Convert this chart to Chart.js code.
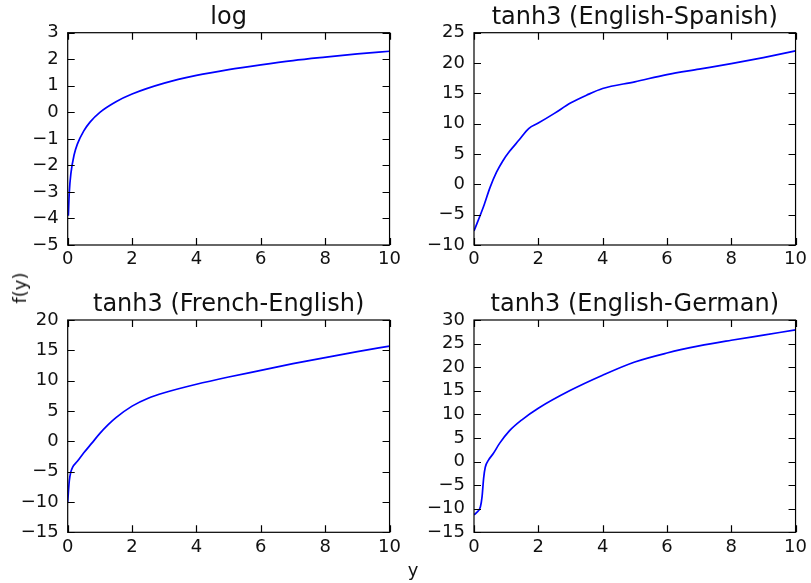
<!DOCTYPE html>
<html>
<head>
<meta charset="utf-8">
<script src="https://cdn.jsdelivr.net/npm/chart.js@4/dist/chart.umd.min.js"></script>
<style>
  body { margin: 0; background: #fff; }
  #wrap { position: relative; width: 811px; height: 583px; overflow: hidden; font-family: "DejaVu Sans", sans-serif; color: #111; }
  canvas { position: absolute; }
  .lbl { position: absolute; font-size: 18px; line-height: 1; white-space: nowrap; }
</style>
</head>
<body>
<div id="wrap">
  <canvas id="c1" width="405" height="280" style="left:0;top:0"></canvas>
  <canvas id="c2" width="406" height="280" style="left:405px;top:0"></canvas>
  <canvas id="c3" width="405" height="303" style="left:0;top:280px"></canvas>
  <canvas id="c4" width="406" height="303" style="left:405px;top:280px"></canvas>
  <div class="lbl" style="left:20px;top:288px;transform:translate(-50%,-50%) rotate(-90deg)">f(y)</div>
  <div class="lbl" style="left:413px;top:570px;transform:translate(-50%,-50%)">y</div>
</div>
<script>
// values
const logX = [0.02, 0.05, 0.1, 0.2, 0.3, 0.5, 0.7, 1, 1.5, 2, 3, 4, 5, 6, 7, 8, 9, 10];
const logY = [-3.9, -3.0, -2.3, -1.6, -1.2, -0.7, -0.36, 0, 0.4, 0.69, 1.1, 1.39, 1.61, 1.79, 1.95, 2.08, 2.2, 2.3];

const esX = [0, 0.3, 0.5, 0.7, 0.9, 1.1, 1.4, 1.7, 2, 2.5, 3, 3.5, 4, 5, 6, 7, 8, 9, 10];
const esY = [-7.7, -3.6, -0.5, 2.0, 3.9, 5.4, 7.3, 9.2, 10.1, 11.7, 13.4, 14.7, 15.8, 16.9, 18.1, 19.0, 19.9, 20.9, 22];

const frX = [0, 0.05, 0.1, 0.15, 0.3, 0.5, 0.75, 1, 1.25, 1.5, 2, 2.5, 3, 4, 5, 6, 7, 8, 9, 10];
const frY = [-10, -6.5, -5, -4.3, -3.3, -1.9, -0.3, 1.3, 2.7, 3.9, 5.8, 7.1, 8.0, 9.4, 10.6, 11.7, 12.8, 13.8, 14.8, 15.7];

const deX = [0, 0.1, 0.2, 0.25, 0.3, 0.35, 0.45, 0.6, 0.8, 1.1, 1.5, 2, 3, 4, 5, 6, 7, 8, 9, 10];
const deY = [-11.3, -10.7, -9.6, -7.5, -3.5, -1.2, 0.3, 1.7, 3.9, 6.5, 8.9, 11.3, 15.1, 18.3, 21.1, 23, 24.5, 25.7, 26.8, 27.9];

const xTicks = { min: 0, max: 10, step: 2 };

const FONT = '"DejaVu Sans", sans-serif';
const TICK = 7;

// matplotlib style box with ticks pointing inwards on every side
const framePlugin = {
  id: 'frame',
  afterDatasetsDraw(chart) {
    const { ctx, chartArea: a, scales } = chart;
    ctx.save();
    ctx.strokeStyle = '#000';
    ctx.lineWidth = 1.2;
    ctx.beginPath();
    scales.x.ticks.forEach(t => {
      const px = Math.round(scales.x.getPixelForValue(t.value)) + 0.5;
      ctx.moveTo(px, a.top); ctx.lineTo(px, a.top + TICK);
      ctx.moveTo(px, a.bottom); ctx.lineTo(px, a.bottom - TICK);
    });
    scales.y.ticks.forEach(t => {
      const py = Math.round(scales.y.getPixelForValue(t.value)) + 0.5;
      ctx.moveTo(a.left, py); ctx.lineTo(a.left + TICK, py);
      ctx.moveTo(a.right, py); ctx.lineTo(a.right - TICK, py);
    });
    ctx.stroke();
    ctx.strokeRect(a.left, a.top, a.right - a.left, a.bottom - a.top);
    ctx.restore();
  }
};

function minus(v) {
  return v < 0 ? '\u2212' + Math.abs(v) : String(v);
}

function makeChart(id, xs, ys, title, yMin, yMax, yStep, box) {
  const canvas = document.getElementById(id);
  const w = canvas.width, h = canvas.height;
  const points = xs.map((x, i) => ({ x: x, y: ys[i] }));
  return new Chart(canvas, {
    type: 'line',
    data: {
      datasets: [{
        data: points,
        borderColor: '#0000ff',
        borderWidth: 1.7,
        pointRadius: 0,
        cubicInterpolationMode: 'monotone',
        fill: false
      }]
    },
    options: {
      responsive: false,
      animation: false,
      devicePixelRatio: 1,
      layout: { padding: { left: 0, top: box.top - 29.8, right: w - box.right, bottom: 0 } },
      plugins: {
        legend: { display: false },
        tooltip: { enabled: false },
        title: {
          display: true,
          text: title,
          fullSize: false,
          color: '#111',
          font: { family: FONT, size: 24, weight: 'normal', lineHeight: 1.2 },
          padding: { top: 0, bottom: 1 }
        }
      },
      scales: {
        x: {
          type: 'linear',
          min: xTicks.min,
          max: xTicks.max,
          grid: { display: false, drawTicks: false },
          border: { display: false },
          ticks: {
            stepSize: xTicks.step,
            autoSkip: false,
            color: '#111',
            padding: 4,
            maxRotation: 0,
            font: { family: FONT, size: 18 },
            callback: v => minus(v)
          },
          afterFit: s => { s.height = h - box.bottom; }
        },
        y: {
          type: 'linear',
          min: yMin,
          max: yMax,
          grid: { display: false, drawTicks: false },
          border: { display: false },
          ticks: {
            stepSize: yStep,
            autoSkip: false,
            color: '#111',
            padding: 9,
            font: { family: FONT, size: 18 },
            callback: v => minus(v)
          },
          afterFit: s => { s.width = box.left; }
        }
      }
    },
    plugins: [framePlugin]
  });
}

makeChart('c1', logX, logY, 'log', -5, 3, 1, { left: 67.7, top: 32.7, right: 390.7, bottom: 245 });
makeChart('c2', esX, esY, 'tanh3 (English-Spanish)', -10, 25, 5, { left: 69, top: 32.7, right: 391.7, bottom: 245 });
makeChart('c3', frX, frY, 'tanh3 (French-English)', -15, 20, 5, { left: 67.7, top: 40, right: 390.7, bottom: 252.3 });
makeChart('c4', deX, deY, 'tanh3 (English-German)', -15, 30, 5, { left: 69, top: 40, right: 391.7, bottom: 252.3 });
</script>
</body>
</html>
